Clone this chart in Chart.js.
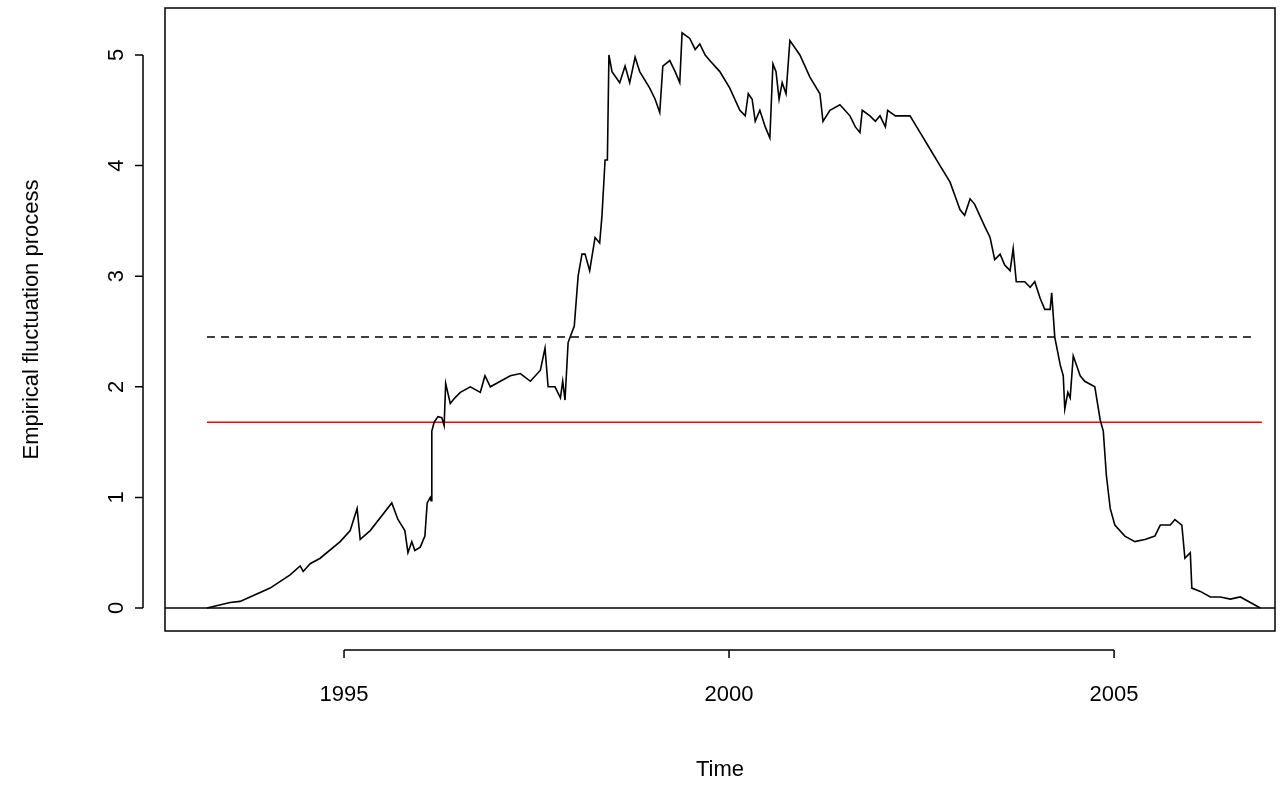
<!DOCTYPE html>
<html>
<head>
<meta charset="utf-8">
<script src="https://cdn.jsdelivr.net/npm/chart.js@4"></script>
<style>
  html, body { margin: 0; padding: 0; background: #fff; }
  #wrap { width: 1287px; height: 791px; }
</style>
</head>
<body>
<div id="wrap"><canvas id="efp"></canvas></div>
<script>
// Empirical fluctuation process
const years = [1993.22, 1993.52, 1993.65, 1993.78, 1994.04, 1994.30, 1994.43, 1994.47, 1994.56, 1994.69,
  1994.95, 1995.08, 1995.17, 1995.21, 1995.34, 1995.62, 1995.70, 1995.79, 1995.83, 1995.88,
  1995.92, 1995.99, 1996.05, 1996.08, 1996.12, 1996.13, 1996.14, 1996.17, 1996.22, 1996.27,
  1996.30, 1996.32, 1996.38, 1996.44, 1996.51, 1996.64, 1996.77, 1996.83, 1996.90, 1997.03,
  1997.16, 1997.29, 1997.42, 1997.55, 1997.61, 1997.65, 1997.74, 1997.81, 1997.84, 1997.87,
  1997.91, 1997.99, 1998.04, 1998.09, 1998.13, 1998.19, 1998.26, 1998.32, 1998.35, 1998.39,
  1998.42, 1998.44, 1998.48, 1998.58, 1998.65, 1998.71, 1998.78, 1998.84, 1998.97, 1999.04,
  1999.10, 1999.14, 1999.23, 1999.30, 1999.36, 1999.39, 1999.49, 1999.56, 1999.62, 1999.69,
  1999.75, 1999.88, 2000.01, 2000.14, 2000.21, 2000.25, 2000.30, 2000.34, 2000.40, 2000.47,
  2000.53, 2000.57, 2000.61, 2000.65, 2000.69, 2000.74, 2000.79, 2000.92, 2001.05, 2001.18,
  2001.22, 2001.31, 2001.44, 2001.57, 2001.64, 2001.70, 2001.73, 2001.83, 2001.90, 2001.96,
  2002.03, 2002.06, 2002.16, 2002.35, 2002.48, 2002.61, 2002.74, 2002.87, 2003.00, 2003.06,
  2003.13, 2003.19, 2003.32, 2003.39, 2003.45, 2003.52, 2003.58, 2003.65, 2003.69, 2003.73,
  2003.84, 2003.91, 2003.97, 2004.04, 2004.10, 2004.17, 2004.19, 2004.23, 2004.30, 2004.34,
  2004.36, 2004.40, 2004.43, 2004.47, 2004.56, 2004.62, 2004.75, 2004.82, 2004.86, 2004.90,
  2004.95, 2005.01, 2005.14, 2005.27, 2005.40, 2005.53, 2005.60, 2005.73, 2005.79, 2005.88,
  2005.92, 2005.99, 2006.01, 2006.12, 2006.25, 2006.38, 2006.51, 2006.64, 2006.77, 2006.90];
const process = [0, 0.05, 0.06, 0.1, 0.18, 0.3, 0.38, 0.33, 0.4, 0.45,
  0.6, 0.7, 0.9, 0.62, 0.7, 0.95, 0.8, 0.7, 0.5, 0.6,
  0.52, 0.55, 0.65, 0.95, 1.0, 0.97, 1.6, 1.68, 1.73, 1.72,
  1.65, 2.03, 1.85, 1.9, 1.95, 2.0, 1.95, 2.1, 2.0, 2.05,
  2.1, 2.12, 2.05, 2.15, 2.35, 2.0, 2.0, 1.9, 2.05, 1.88,
  2.4, 2.55, 3.0, 3.2, 3.2, 3.05, 3.35, 3.3, 3.55, 4.05,
  4.05, 5.0, 4.85, 4.75, 4.9, 4.75, 4.98, 4.85, 4.7, 4.6,
  4.48, 4.9, 4.95, 4.85, 4.75, 5.2, 5.15, 5.05, 5.1, 5.0,
  4.95, 4.85, 4.7, 4.5, 4.45, 4.65, 4.6, 4.4, 4.5, 4.35,
  4.25, 4.92, 4.85, 4.6, 4.75, 4.65, 5.13, 5.0, 4.8, 4.65,
  4.4, 4.5, 4.55, 4.45, 4.35, 4.3, 4.5, 4.45, 4.4, 4.45,
  4.35, 4.5, 4.45, 4.45, 4.3, 4.15, 4.0, 3.85, 3.6, 3.55,
  3.7, 3.65, 3.45, 3.35, 3.15, 3.2, 3.1, 3.05, 3.25, 2.95,
  2.95, 2.9, 2.95, 2.8, 2.7, 2.7, 2.85, 2.45, 2.2, 2.1,
  1.8, 1.95, 1.9, 2.28, 2.1, 2.05, 2.0, 1.7, 1.6, 1.2,
  0.9, 0.75, 0.65, 0.6, 0.62, 0.65, 0.75, 0.75, 0.8, 0.75,
  0.45, 0.5, 0.18, 0.15, 0.1, 0.1, 0.08, 0.1, 0.05, 0];

const boundaryYears = [1993.22, 2006.92];
const redLevel = 1.68;
const dashedLevel = 2.45;
const xTicks = [1995, 2000, 2005];
const yTicks = [0, 1, 2, 3, 4, 5];

const FONT = '22px "Liberation Sans", Arial, sans-serif';

const rAxes = {
    id: 'rAxes',
    afterDraw(chart) {
        const { ctx, chartArea: a, scales: { x, y } } = chart;
        ctx.save();
        ctx.strokeStyle = '#000';
        ctx.lineWidth = 1.5;
        ctx.strokeRect(a.left, a.top, a.right - a.left, a.bottom - a.top);
        ctx.fillStyle = '#000';
        ctx.font = FONT;

        // x axis
        const ax = a.bottom + 19;
        ctx.beginPath();
        ctx.moveTo(x.getPixelForValue(xTicks[0]), ax);
        ctx.lineTo(x.getPixelForValue(xTicks[xTicks.length - 1]), ax);
        ctx.textAlign = 'center';
        ctx.textBaseline = 'middle';
        xTicks.forEach(t => {
            const px = x.getPixelForValue(t);
            ctx.moveTo(px, ax);
            ctx.lineTo(px, ax + 8);
            ctx.fillText(String(t), px, ax + 45);
        });
        ctx.stroke();

        // y axis
        const ay = a.left - 22;
        ctx.beginPath();
        ctx.moveTo(ay, y.getPixelForValue(yTicks[0]));
        ctx.lineTo(ay, y.getPixelForValue(yTicks[yTicks.length - 1]));
        yTicks.forEach(t => {
            const py = y.getPixelForValue(t);
            ctx.moveTo(ay, py);
            ctx.lineTo(ay - 8, py);
            ctx.save();
            ctx.translate(ay - 26, py);
            ctx.rotate(-Math.PI / 2);
            ctx.fillText(String(t), 0, 0);
            ctx.restore();
        });
        ctx.stroke();

        // titles
        ctx.fillText('Time', (a.left + a.right) / 2, 770);
        ctx.save();
        ctx.translate(32, (a.top + a.bottom) / 2);
        ctx.rotate(-Math.PI / 2);
        ctx.fillText('Empirical fluctuation process', 0, 0);
        ctx.restore();
        ctx.restore();
    }
};

new Chart(document.getElementById('efp'), {
    type: 'line',
    data: {
        datasets: [
            {
                data: years.map((t, i) => ({ x: t, y: process[i] })),
                borderColor: '#000', borderWidth: 1.6, pointRadius: 0, tension: 0
            },
            {
                data: boundaryYears.map(t => ({ x: t, y: redLevel })),
                borderColor: '#ff0000', borderWidth: 1.5, pointRadius: 0
            },
            {
                data: [{ x: boundaryYears[0], y: dashedLevel }, { x: 2006.85, y: dashedLevel }],
                borderColor: '#000', borderWidth: 1.5, borderDash: [8, 6], pointRadius: 0
            },
            {
                data: [{ x: 1992.675, y: 0 }, { x: 2007.09, y: 0 }],
                borderColor: '#000', borderWidth: 1.5, pointRadius: 0
            }
        ]
    },
    options: {
        responsive: true,
        maintainAspectRatio: false,
        animation: false,
        layout: { padding: { left: 165, right: 12, top: 8, bottom: 160 } },
        scales: {
            x: { type: 'linear', min: 1992.675, max: 2007.09, display: false },
            y: { type: 'linear', min: -0.208, max: 5.425, display: false }
        },
        plugins: { legend: { display: false }, tooltip: { enabled: false } }
    },
    plugins: [rAxes]
});
</script>
</body>
</html>
